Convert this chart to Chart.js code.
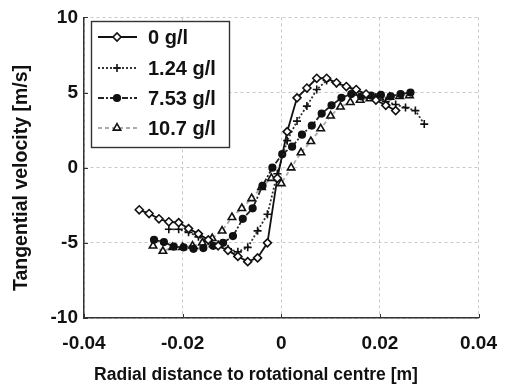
<!DOCTYPE html>
<html>
<head>
<meta charset="utf-8">
<script src="https://cdn.jsdelivr.net/npm/chart.js@4/dist/chart.umd.min.js"></script>
<style>
  html, body { margin: 0; padding: 0; background: #fff; }
  #wrap { width: 511px; height: 388px; }
</style>
</head>
<body>
<div id="wrap"><canvas id="chart" width="511" height="388"></canvas></div>
<script>
// ==========================================================================
// Data
// ==========================================================================
const seriesNames = ['0 g/l', '1.24 g/l', '7.53 g/l', '10.7 g/l'];

const x0 = [-0.0288, -0.0268, -0.0248, -0.0228, -0.0208, -0.0188, -0.0168, -0.0148, -0.0128, -0.0108,
            -0.0088, -0.0068, -0.0048, -0.0028, -0.0008, 0.0012, 0.0032, 0.0052, 0.0072, 0.0092,
            0.0112, 0.0132, 0.0152, 0.0172, 0.0192, 0.0212, 0.0232];
const y0 = [-2.8, -3.05, -3.4, -3.6, -3.65, -4.05, -4.4, -4.8, -5.2, -5.5,
            -5.9, -6.25, -6.0, -5.0, -0.7, 2.4, 4.65, 5.3, 5.95, 5.95,
            5.65, 5.4, 5.2, 4.9, 4.5, 4.15, 3.8];

const x1 = [-0.0228, -0.0208, -0.0188, -0.0168, -0.0148, -0.0128, -0.0108, -0.0088, -0.0068, -0.0048,
            -0.0028, -0.0008, 0.0012, 0.0032, 0.0052, 0.0072, 0.0092, 0.0112, 0.0132, 0.0152,
            0.0172, 0.0192, 0.0212, 0.0232, 0.0252, 0.0272, 0.0290];
const y1 = [-4.1, -4.1, -4.3, -4.6, -4.9, -5.1, -5.4, -5.6, -5.3, -4.2,
            -3.1, -0.4, 1.8, 3.1, 4.1, 5.2, 5.8, 5.6, 5.4, 5.1,
            4.9, 4.7, 4.4, 4.2, 4.0, 3.8, 2.9];

const x2 = [-0.0258, -0.0238, -0.0218, -0.0198, -0.0178, -0.0158, -0.0138, -0.0118, -0.0098, -0.0078,
            -0.0058, -0.0038, -0.0018, 0.0002, 0.0022, 0.0042, 0.0062, 0.0082, 0.0102, 0.0122,
            0.0142, 0.0162, 0.0182, 0.0202, 0.0222, 0.0242, 0.0262];
const y2 = [-4.8, -4.95, -5.25, -5.3, -5.4, -5.35, -5.2, -5.0, -4.55, -3.4,
            -2.7, -1.2, 0.0, 0.9, 1.4, 2.2, 2.8, 3.6, 4.15, 4.65,
            4.9, 4.75, 4.8, 4.85, 4.75, 4.9, 5.0];

const x3 = [-0.026, -0.024, -0.022, -0.020, -0.018, -0.016, -0.014, -0.012, -0.010, -0.008,
            -0.006, -0.004, -0.002, 0.000, 0.002, 0.004, 0.006, 0.008, 0.010, 0.012,
            0.014, 0.016, 0.018, 0.020, 0.022, 0.024, 0.026];
const y3 = [-5.2, -5.55, -5.3, -5.3, -5.2, -5.0, -4.7, -4.2, -3.3, -2.7,
            -2.05, -1.3, -0.7, -1.05, 0.0, 1.0, 1.75, 2.6, 3.45, 4.05,
            4.35, 4.5, 4.6, 4.65, 4.7, 4.75, 4.8];

const xTicks = [-0.04, -0.02, 0, 0.02, 0.04];
const xTickLabels = ['-0.04', '-0.02', '0', '0.02', '0.04'];
const yTicks = [-10, -5, 0, 5, 10];
const yTickLabels = ['-10', '-5', '0', '5', '10'];

const xTitle = 'Radial distance to rotational centre [m]';
const yTitle = 'Tangential velocity [m/s]';

// ==========================================================================
// Helpers
// ==========================================================================
const FONT = '"Liberation Sans", Arial, Helvetica, sans-serif';
const zip = (xs, ys) => xs.map((x, i) => ({ x: x, y: ys[i] }));

const styles = [
    { line: '#111', dash: [], point: 'rectRot', radius: 4, fill: '#fff', edge: '#111' },
    { line: '#333', dash: [2, 2], point: 'cross', radius: 4, fill: '#111', edge: '#111' },
    { line: '#222', dash: [6, 2, 2, 2], point: 'circle', radius: 3.3, fill: '#111', edge: '#111' },
    { line: '#aaa', dash: [4, 3], point: 'triangle', radius: 4.3, fill: '#fff', edge: '#111' },
];
const seriesData = [zip(x0, y0), zip(x1, y1), zip(x2, y2), zip(x3, y3)];

const datasets = seriesData.map((d, i) => ({
    label: seriesNames[i],
    data: d,
    showLine: true,
    borderColor: styles[i].line,
    borderWidth: 1.8,
    borderDash: styles[i].dash,
    pointStyle: styles[i].point,
    pointRadius: styles[i].radius,
    pointBackgroundColor: styles[i].fill,
    pointBorderColor: styles[i].edge,
    pointBorderWidth: 1.6,
    tension: 0,
}));

// --- Inward tick marks like the original axes ---
const inwardTicks = {
    id: 'inwardTicks',
    afterDraw(chart) {
        const { ctx, chartArea, scales } = chart;
        ctx.save();
        ctx.strokeStyle = '#333';
        ctx.lineWidth = 1;
        ctx.beginPath();
        xTicks.forEach(v => {
            const px = Math.round(scales.x.getPixelForValue(v)) + 0.5;
            ctx.moveTo(px, chartArea.bottom);
            ctx.lineTo(px, chartArea.bottom - 4);
        });
        yTicks.forEach(v => {
            const py = Math.round(scales.y.getPixelForValue(v)) + 0.5;
            ctx.moveTo(chartArea.left, py);
            ctx.lineTo(chartArea.left + 4, py);
        });
        ctx.stroke();
        ctx.restore();
    }
};

// --- Axis titles (centred on the figure, as in the original) ---
const axisTitles = {
    id: 'axisTitles',
    afterDraw(chart) {
        const ctx = chart.ctx;
        ctx.save();
        ctx.fillStyle = '#111';
        ctx.textAlign = 'center';
        ctx.textBaseline = 'middle';
        ctx.font = 'bold 17.5px ' + FONT;
        ctx.fillText(xTitle, 256, 375);
        ctx.translate(22, 178);
        ctx.rotate(-Math.PI / 2);
        ctx.font = 'bold 19.5px ' + FONT;
        ctx.fillText(yTitle, 0, 0);
        ctx.restore();
    }
};

// --- Boxed legend with line samples ---
const boxLegend = {
    id: 'boxLegend',
    afterDraw(chart) {
        const ctx = chart.ctx;
        const left = 91, top = 21, w = 138, h = 126;
        ctx.save();
        ctx.fillStyle = '#fff';
        ctx.fillRect(left, top, w, h);
        ctx.strokeStyle = '#333';
        ctx.lineWidth = 1.4;
        ctx.strokeRect(left + 0.5, top + 0.5, w, h);
        const rows = [37, 68, 98, 128];
        seriesNames.forEach((name, i) => {
            const s = styles[i];
            const y = rows[i];
            ctx.save();
            ctx.strokeStyle = s.line;
            ctx.lineWidth = 1.8;
            ctx.setLineDash(s.dash);
            ctx.beginPath();
            ctx.moveTo(98, y);
            ctx.lineTo(137, y);
            ctx.stroke();
            ctx.restore();
            ctx.save();
            ctx.fillStyle = s.fill;
            ctx.strokeStyle = s.edge;
            ctx.lineWidth = 1.6;
            Chart.helpers.drawPoint(ctx, { pointStyle: s.point, radius: s.radius, rotation: 0, borderWidth: 1.6 }, 117, y);
            ctx.restore();
            ctx.fillStyle = '#111';
            ctx.font = 'bold 20px ' + FONT;
            ctx.textBaseline = 'middle';
            ctx.textAlign = 'left';
            ctx.fillText(name, 148, y + 1);
        });
        ctx.restore();
    }
};

// ==========================================================================
// Chart
// ==========================================================================
new Chart(document.getElementById('chart').getContext('2d'), {
    type: 'scatter',
    data: { datasets: datasets },
    options: {
        responsive: false,
        animation: false,
        layout: { padding: { top: 15, right: 27, left: 0, bottom: 0 } },
        plugins: { legend: { display: false }, tooltip: { enabled: false } },
        scales: {
            x: {
                type: 'linear',
                min: -0.04,
                max: 0.04,
                afterBuildTicks: scale => { scale.ticks = xTicks.map(v => ({ value: v })); },
                afterFit: scale => { scale.height = 70; },
                ticks: {
                    callback: (v, i) => xTickLabels[i],
                    color: '#111',
                    padding: 14,
                    maxRotation: 0,
                    font: { family: FONT, size: 19, weight: 'bold' },
                },
                grid: { color: '#c8c8c8', lineWidth: 1, drawTicks: false },
                border: { color: '#333', width: 1.5, dash: [3, 3] },
            },
            y: {
                type: 'linear',
                min: -10,
                max: 10,
                afterBuildTicks: scale => { scale.ticks = yTicks.map(v => ({ value: v })); },
                afterFit: scale => { scale.width = 84; },
                ticks: {
                    callback: (v, i) => yTickLabels[i],
                    color: '#111',
                    padding: 6,
                    font: { family: FONT, size: 19, weight: 'bold' },
                },
                grid: { color: '#c8c8c8', lineWidth: 1, drawTicks: false },
                border: { color: '#333', width: 1.5, dash: [3, 3] },
            },
        },
    },
    plugins: [inwardTicks, axisTitles, boxLegend],
});
</script>
</body>
</html>
